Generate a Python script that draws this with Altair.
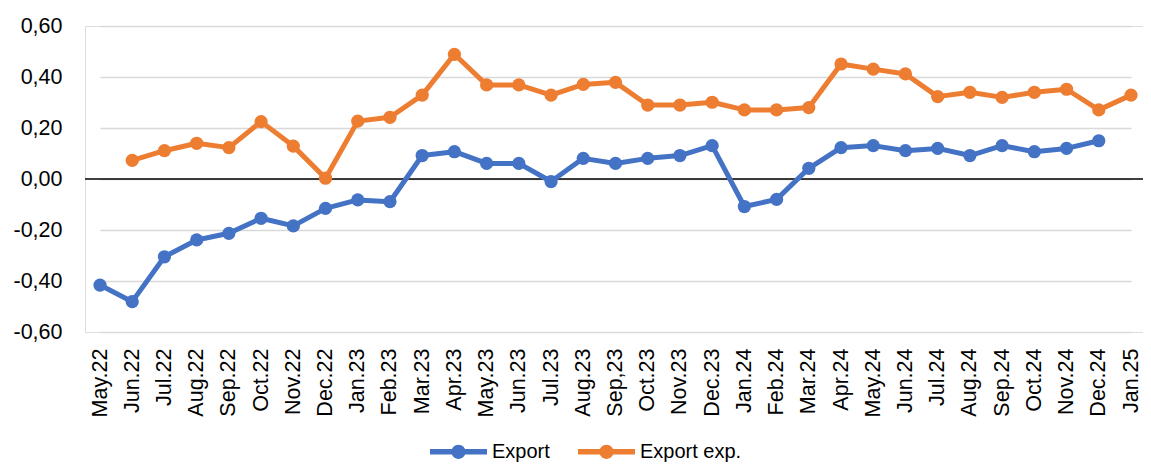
import altair as alt
import pandas as pd

months = ["May.22", "Jun.22", "Jul.22", "Aug.22", "Sep.22", "Oct.22", "Nov.22", "Dec.22",
          "Jan.23", "Feb.23", "Mar.23", "Apr.23", "May.23", "Jun.23", "Jul.23", "Aug.23",
          "Sep,23", "Oct.23", "Nov.23", "Dec.23", "Jan.24", "Feb.24", "Mar.24", "Apr.24",
          "May.24", "Jun.24", "Jul.24", "Aug.24", "Sep.24", "Oct.24", "Nov.24", "Dec.24", "Jan.25"]

export = [-0.416, -0.481, -0.305, -0.239, -0.213, -0.154, -0.184, -0.115,
          -0.082, -0.089, 0.092, 0.107, 0.061, 0.061, -0.010, 0.081,
          0.061, 0.081, 0.092, 0.131, -0.108, -0.080, 0.042, 0.123,
          0.131, 0.111, 0.120, 0.092, 0.131, 0.107, 0.120, 0.150, None]

export_exp = [None, 0.073, 0.111, 0.140, 0.123, 0.225, 0.129, 0.003,
              0.227, 0.242, 0.329, 0.489, 0.369, 0.369, 0.329, 0.371,
              0.379, 0.290, 0.290, 0.301, 0.271, 0.271, 0.280, 0.451,
              0.431, 0.412, 0.323, 0.340, 0.320, 0.340, 0.352, 0.271, 0.329]

series_names = ["Export", "Export exp."]
series_colors = ["#4472C4", "#ED7D31"]
y_ticks = [-0.6, -0.4, -0.2, 0.0, 0.2, 0.4, 0.6]

rows = []
for name, vals in zip(series_names, [export, export_exp]):
    for m, v in zip(months, vals):
        if v is not None:
            rows.append({"month": m, "series": name, "value": v})
df = pd.DataFrame(rows)

FONT = "Liberation Sans"

x_enc = alt.X("month:N", sort=months, title=None,
              scale=alt.Scale(type="point", range=[15, 1046], padding=0),
              axis=alt.Axis(labelAngle=270, ticks=False, domain=False, grid=False,
                            labelFontSize=21.5, labelPadding=16, labelOverlap=False,
                            labelColor="#000000", labelFont=FONT))
y_enc = alt.Y("value:Q", title=None,
              scale=alt.Scale(domain=[-0.6, 0.6], nice=False, zero=False),
              axis=alt.Axis(values=y_ticks, ticks=False, domain=False,
                            gridColor="#D9D9D9", gridWidth=1.5,
                            labelExpr="replace(replace(format(datum.value, '.2f'), '.', ','), '\u2212', '-')",
                            labelFontSize=21.5, labelPadding=23, labelColor="#000000",
                            labelFont=FONT))

color_scale = alt.Scale(domain=series_names, range=series_colors)

legend_path = ("M-1,-0.1H1V0.1H-1Z "
               "M0.25,0A0.25,0.25,0,1,1,-0.25,0A0.25,0.25,0,1,1,0.25,0Z")

legend = alt.Legend(title=None, orient="none", legendX=345, legendY=397,
                    direction="horizontal", symbolType=legend_path,
                    symbolSize=3249, symbolStrokeWidth=0, symbolOpacity=1,
                    labelFontSize=20, labelFont=FONT, labelColor="#000000",
                    labelOffset=5, columnPadding=28)

color_enc = alt.Color("series:N", scale=color_scale, legend=legend)

zero = alt.Chart(pd.DataFrame({"z": [0.0]})).mark_rule(color="#000000", strokeWidth=1.5).encode(
    y=alt.Y("z:Q", scale=alt.Scale(domain=[-0.6, 0.6], nice=False, zero=False))
)

lines = alt.Chart(df).mark_line(strokeWidth=5, strokeJoin="round", strokeCap="round").encode(
    x=x_enc, y=y_enc, color=color_enc,
)

points = alt.Chart(df).mark_circle(size=175, opacity=1).encode(
    x=x_enc, y=y_enc, color=color_enc,
)

chart = alt.layer(zero, lines, points).properties(
    width=1058, height=306,
    autosize=alt.AutoSizeParams(type="none"),
    padding={"left": 77, "top": 18, "right": 0, "bottom": 131},
).configure_view(stroke=None).configure(background="#ffffff")

chart.save("out.html", embed_options={"renderer": "svg", "actions": False})
